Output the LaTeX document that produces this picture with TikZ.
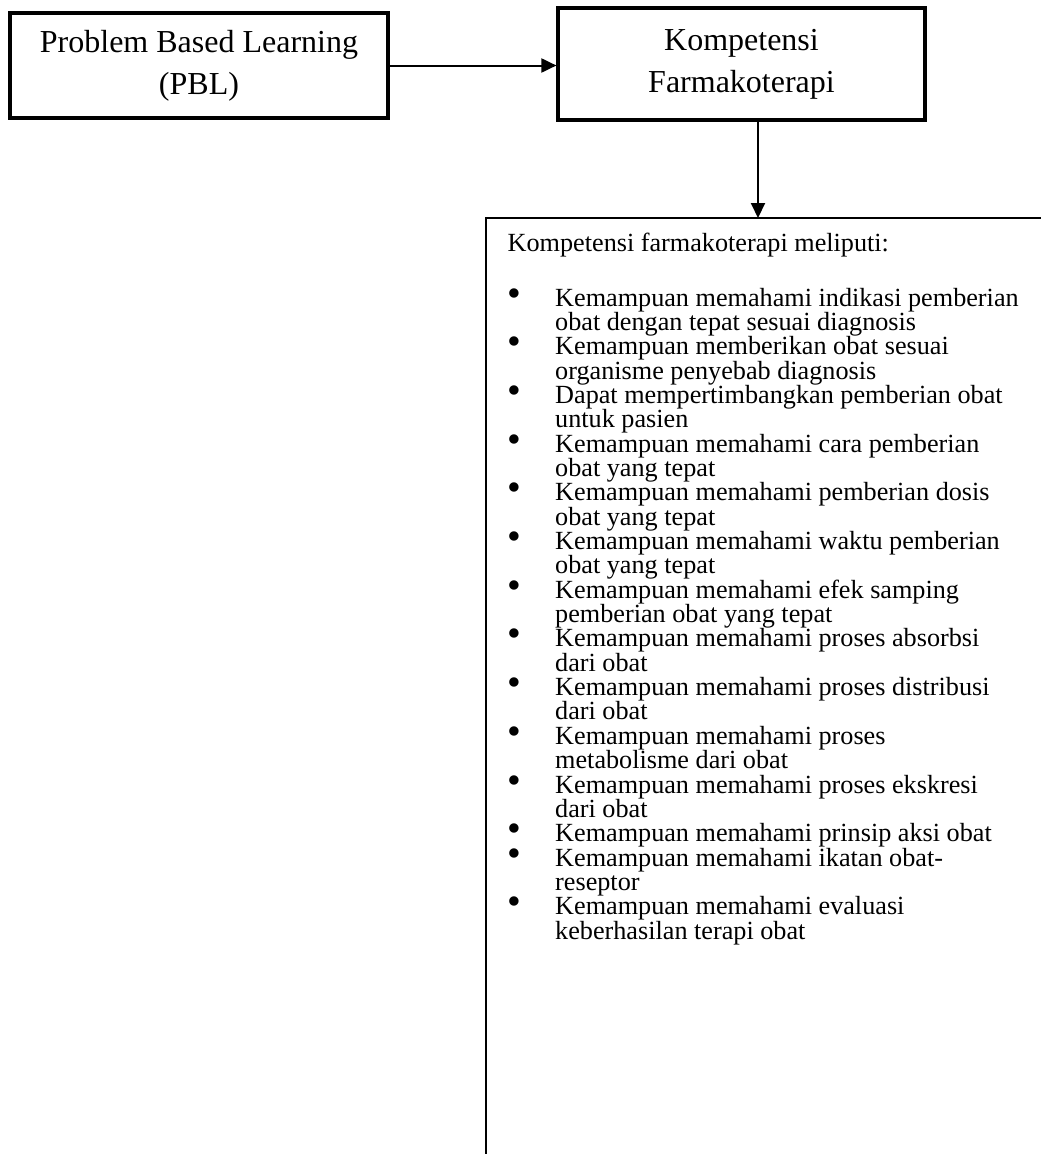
\documentclass[tikz,border=0pt]{standalone}
\usepackage{fontspec}
\setmainfont{Liberation Serif}
\usepackage{graphicx}
\usepackage{array}
\usetikzlibrary{arrows.meta}
\newcommand{\bul}{\hspace*{1pt}\scalebox{1.5}{\textbullet}}
\newcolumntype{Z}[1]{>{\setbox0=\hbox to #1\bgroup}l<{\hfil\egroup\ht0=0pt\dp0=0pt\box0}}
\begin{document}
\begin{tikzpicture}[x=1pt,y=1pt,
  bigbox/.style={draw, line width=3.2pt, inner sep=0pt, align=center, font=\fontsize{32}{42}\selectfont},
  conn/.style={line width=2pt, -{Triangle[length=15pt,width=14pt]}},
  listfont/.style={font=\fontsize{26.2}{24.35}\selectfont, inner sep=0pt},
]
\useasboundingbox (0,0) rectangle (1041,-1154);
\node[bigbox, minimum width=378pt, minimum height=105pt] (pbl) at (199,-65.5) {Problem Based Learning\\(PBL)};
\node[bigbox, minimum width=367pt, minimum height=112pt] (komp) at (741.5,-64) {Kompetensi\\Farmakoterapi};
\coordinate (lt) at (486,-218);
\coordinate (rt) at (1041,-218);
\coordinate (lb) at (486,-1154);
\draw[line width=1.5pt] (lb) -- (lt) -- (rt);
\coordinate (ax) at (758,0);
\draw[conn] (pbl.east) -- (pbl.east -| komp.west);
\draw[conn] (komp.south -| ax) -- (ax |- lt);
\node[listfont, anchor=base west] (head) at (507.5,-251) {Kompetensi farmakoterapi meliputi:};
\node[listfont, anchor=base west] (items) at (506,-306) {%
\begin{tabular}[t]{@{}Z{49pt}@{}Z{480pt}@{}}
\bul & Kemampuan memahami indikasi pemberian\\
 & obat dengan tepat sesuai diagnosis\\
\bul & Kemampuan memberikan obat sesuai\\
 & organisme penyebab diagnosis\\
\bul & Dapat mempertimbangkan pemberian obat\\
 & untuk pasien\\
\bul & Kemampuan memahami cara pemberian\\
 & obat yang tepat\\
\bul & Kemampuan memahami pemberian dosis\\
 & obat yang tepat\\
\bul & Kemampuan memahami waktu pemberian\\
 & obat yang tepat\\
\bul & Kemampuan memahami efek samping\\
 & pemberian obat yang tepat\\
\bul & Kemampuan memahami proses absorbsi\\
 & dari obat\\
\bul & Kemampuan memahami proses distribusi\\
 & dari obat\\
\bul & Kemampuan memahami proses\\
 & metabolisme dari obat\\
\bul & Kemampuan memahami proses ekskresi\\
 & dari obat\\
\bul & Kemampuan memahami prinsip aksi obat\\
\bul & Kemampuan memahami ikatan obat-\\
 & reseptor\\
\bul & Kemampuan memahami evaluasi\\
 & keberhasilan terapi obat
\end{tabular}};
\end{tikzpicture}
\end{document}
